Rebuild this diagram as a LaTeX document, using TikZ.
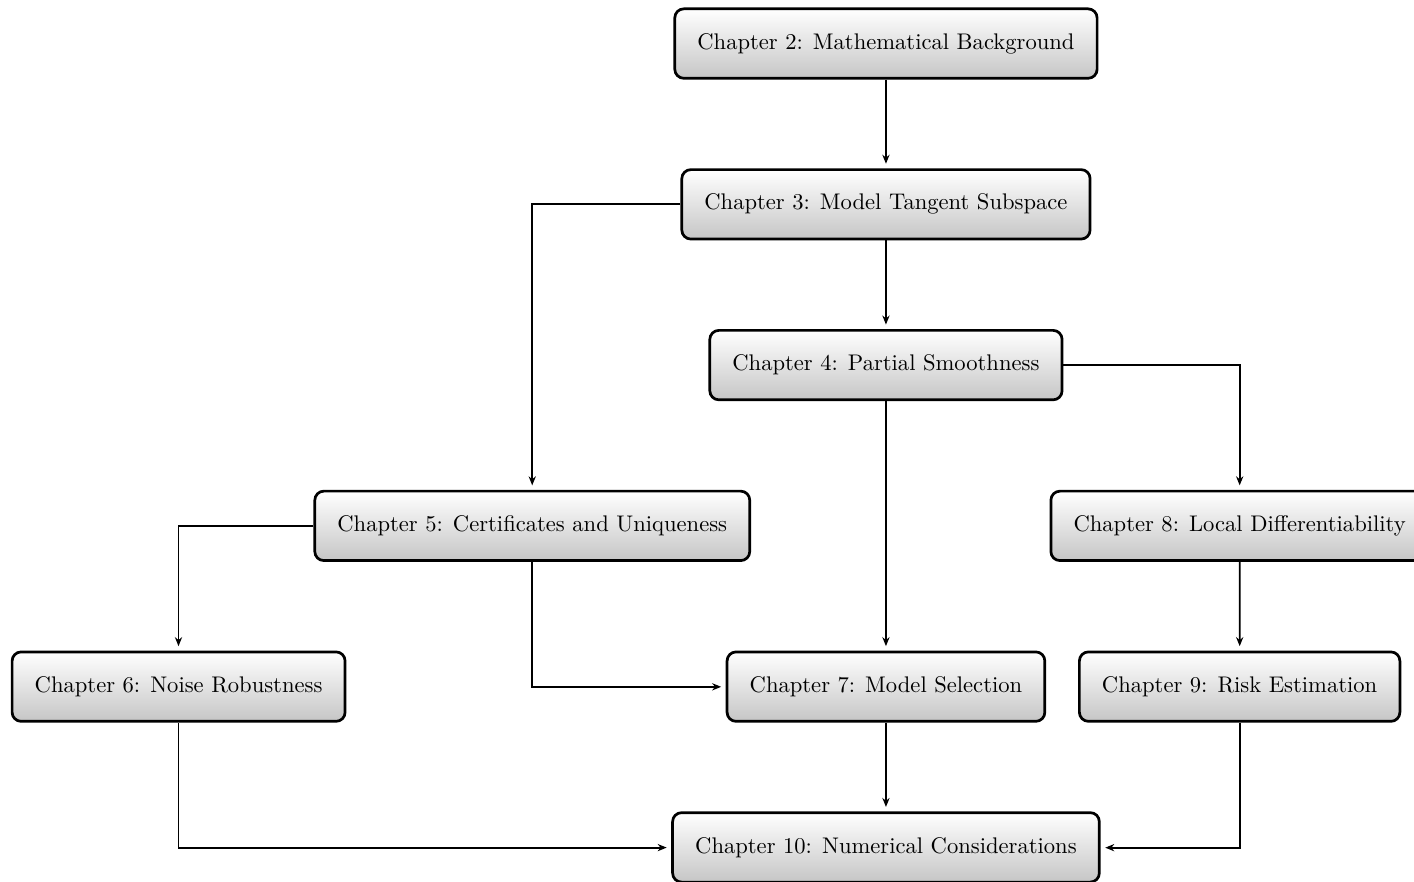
\documentclass[tikz,border=0pt]{standalone}
\usetikzlibrary{arrows.meta}
\begin{document}
\begin{tikzpicture}[xscale=5.5,yscale=2.5,
  very thick,main node/.style={rectangle,rounded corners=4pt,draw,top color=white,bottom color=gray!45,
    minimum height=1.08cm,inner xsep=10pt},
  hv/.style={to path={-| (\tikztotarget)}},
  vh/.style={to path={|- (\tikztotarget)}}]

  \useasboundingbox (-2.505,0.271) rectangle (1.493,-5.21);
  \node[main node] (2) at (0,0) {Chapter 2: Mathematical Background};
  \node[main node] (3) at (0,-1) {Chapter 3: Model Tangent Subspace};
  \node[main node] (4) at (0,-2) {Chapter 4: Partial Smoothness};
  \node[main node] (5) at (-1,-3) {Chapter 5: Certificates and Uniqueness};
  \node[main node] (8) at (1,-3) {Chapter 8: Local Differentiability};
  \node[main node] (6) at (-2,-4) {Chapter 6: Noise Robustness};
  \node[main node] (7) at (0,-4) {Chapter 7: Model Selection};
  \node[main node] (9) at (1,-4) {Chapter 9: Risk Estimation};
  \node[main node] (10) at (0,-5) {Chapter 10: Numerical Considerations};
  \path[thick,-{Stealth[length=4pt,width=3.2pt]},shorten >=2pt]
   (2) edge (3)
   (3) edge (4)
   (3) edge[hv] (5)
   (4) edge[hv] (8)
   (4) edge (7)
   (5) edge[hv] (6)
   (5) edge[vh] (7)
   (8) edge (9)
   (6) edge[vh] (10)
   (7) edge (10)
   (9) edge[vh] (10);
\end{tikzpicture}
\end{document}
